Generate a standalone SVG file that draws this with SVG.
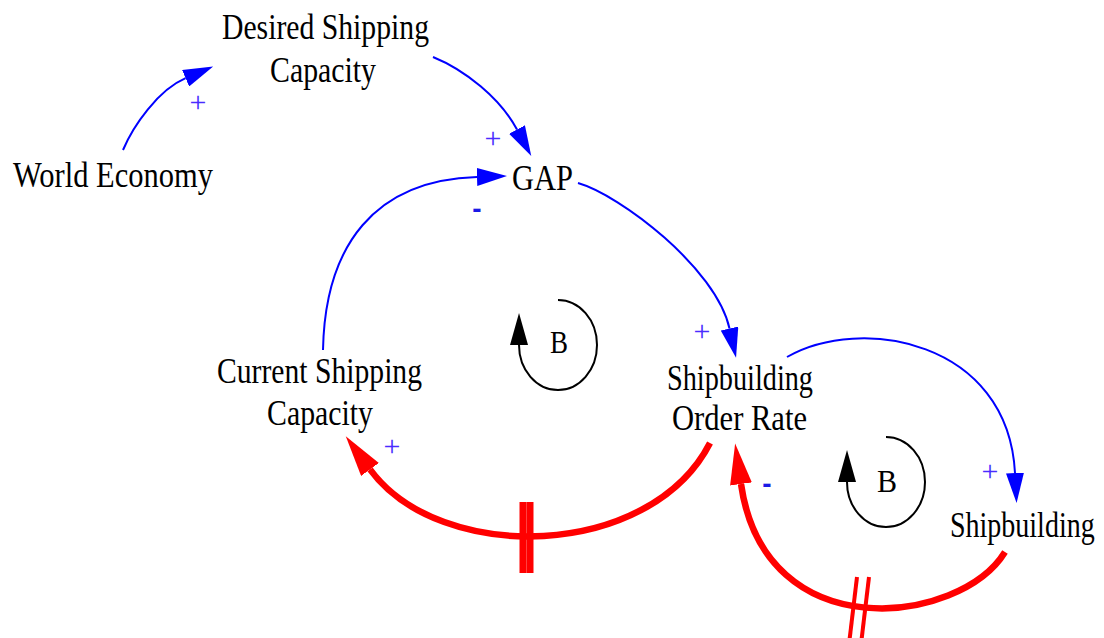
<svg xmlns="http://www.w3.org/2000/svg" width="1104" height="638" viewBox="0 0 1104 638">
<style>
.lbl{font-family:"Liberation Serif","Times New Roman",serif;font-size:35px;fill:#000}
.b{font-family:"Liberation Serif","Times New Roman",serif;font-size:32px;fill:#000}
.plus{font-family:"Liberation Serif","Times New Roman",serif;font-size:30px;fill:#4a2cff;text-anchor:middle}
.minus{font-family:"Liberation Sans",Arial,sans-serif;font-weight:bold;font-size:28px;fill:#1a1ae6;text-anchor:middle}
.blue{fill:none;stroke:#0000ff;stroke-width:2}
.red{fill:none;stroke:#ff0000;stroke-width:6.5}
.loop{fill:none;stroke:#000;stroke-width:2}
.delay{stroke:#ff0000;fill:none}
</style>
<defs>
<marker id="ab" markerUnits="userSpaceOnUse" viewBox="0 0 30 18" refX="0" refY="9" markerWidth="30" markerHeight="18" orient="auto"><path d="M0,0 L30,9 L0,18 z" fill="#0000ff"/></marker>
<marker id="ar" markerUnits="userSpaceOnUse" viewBox="0 0 41 22" refX="0" refY="11" markerWidth="41" markerHeight="22" orient="auto"><path d="M0,0 L41,11 L0,22 z" fill="#ff0000"/></marker>
<marker id="ak" markerUnits="userSpaceOnUse" viewBox="0 0 32 18" refX="0" refY="9" markerWidth="32" markerHeight="18" orient="auto"><path d="M0,0 L32,9 L0,18 z" fill="#000"/></marker>
</defs>
<rect width="1104" height="638" fill="#fff"/>

<g id="connectors">
<path class="blue" d="M123,150 C133,126 158,90 185.6,78.2" marker-end="url(#ab)"/>
<path class="blue" d="M433,57 C465,70 500,98 517,129.5" marker-end="url(#ab)"/>
<path class="blue" d="M323,350 C325,245 375,180 477,177" marker-end="url(#ab)"/>
<path class="blue" d="M578,183 C620,195 716,268 729.5,328.5" marker-end="url(#ab)"/>
<path class="blue" d="M787,357 C860,315 1008,340 1015,473" marker-end="url(#ab)"/>
<path class="red" d="M710,443 C650,560 440,565 370,469.4" marker-end="url(#ar)"/>
<path class="red" d="M1005,552 C960,625 765,650 741,484" marker-end="url(#ar)"/>
<g class="delay" stroke-width="7">
<line x1="523" y1="502" x2="523" y2="573"/>
<line x1="530" y1="502" x2="530" y2="573"/>
</g>
<g class="delay" stroke-width="4">
<line x1="857" y1="577" x2="849.5" y2="640"/>
<line x1="869" y1="577" x2="861.5" y2="640"/>
</g>
<text class="plus" x="198" y="112">+</text>
<text class="plus" x="493" y="148">+</text>
<text class="minus" x="477" y="218">-</text>
<text class="plus" x="702" y="341">+</text>
<text class="plus" x="990" y="481">+</text>
<text class="plus" x="392" y="456">+</text>
<text class="minus" x="767" y="493">-</text>
</g>

<g id="world-economy"><text class="lbl" x="13" y="187" textLength="200" lengthAdjust="spacingAndGlyphs">World Economy</text></g>
<g id="desired-shipping-capacity">
<text class="lbl" x="222" y="39" textLength="207" lengthAdjust="spacingAndGlyphs">Desired Shipping</text>
<text class="lbl" x="270" y="82" textLength="106" lengthAdjust="spacingAndGlyphs">Capacity</text>
</g>
<g id="gap"><text class="lbl" x="512" y="190" textLength="61" lengthAdjust="spacingAndGlyphs">GAP</text></g>
<g id="current-shipping-capacity">
<text class="lbl" x="217" y="383" textLength="205" lengthAdjust="spacingAndGlyphs">Current Shipping</text>
<text class="lbl" x="267" y="425" textLength="106" lengthAdjust="spacingAndGlyphs">Capacity</text>
</g>
<g id="shipbuilding-order-rate">
<text class="lbl" x="667" y="390" textLength="146" lengthAdjust="spacingAndGlyphs">Shipbuilding</text>
<text class="lbl" x="672" y="430" textLength="135" lengthAdjust="spacingAndGlyphs">Order Rate</text>
</g>
<g id="shipbuilding"><text class="lbl" transform="translate(950,537) scale(0.8,1)" x="0" y="0">Shipbuilding</text></g>

<g id="loop-b1">
<path class="loop" d="M558,300 A39,45 0 1 1 519,345" marker-end="url(#ak)"/>
<text class="b" x="550" y="353" textLength="18" lengthAdjust="spacingAndGlyphs">B</text>
</g>
<g id="loop-b2">
<path class="loop" d="M886,437 A39,45 0 1 1 847,482" marker-end="url(#ak)"/>
<text class="b" x="877" y="492" textLength="20" lengthAdjust="spacingAndGlyphs">B</text>
</g>
</svg>
